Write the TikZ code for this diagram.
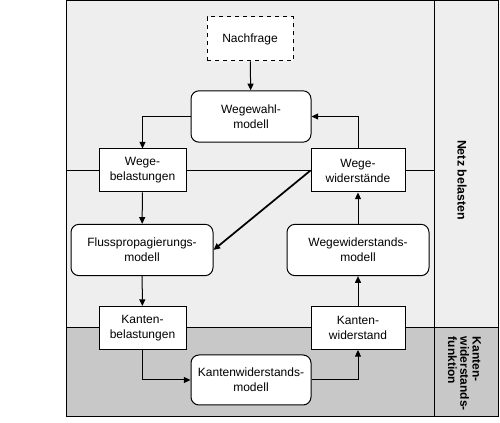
\documentclass[tikz,border=0pt]{standalone}
\usepackage{fontspec}
\setmainfont{Liberation Sans}
\usetikzlibrary{arrows.meta}
\definecolor{laneupper}{HTML}{EEEEEE}
\definecolor{lanelower}{HTML}{C8C8C8}
\begin{document}
\begin{tikzpicture}[x=0.75pt,y=-0.75pt,line width=0.75pt,
  font=\fontsize{9}{11.25}\selectfont]
\tikzset{datenbox/.style={draw,fill=white,inner sep=0pt,align=center,minimum height=32.25pt},
  modellbox/.style={datenbox,rounded corners=6pt,minimum height=38.5pt},
  pfeil/.style={-{Triangle[length=5pt,width=4.5pt]}}}
\useasboundingbox (0,0) rectangle (500,423);
\fill [laneupper] (66,1) rectangle (498,328);
\fill [lanelower] (66,328) rectangle (498,417);
\draw (66,1) rectangle (498,417);
\draw (434,1) -- (434,417);
\draw (66,171) -- (434,171);
\draw (66,328) -- (498,328);
\node [rotate=-90,font=\fontsize{9.3}{11}\selectfont\bfseries] (netz) at (462,180) {Netz belasten};
\node [rotate=-90,anchor=west,align=left,font=\fontsize{9}{9.2}\selectfont\bfseries] (kwf) at (464.5,332) {Kanten-\\widerstands-\\funktion};
\node [datenbox,dashed,minimum width=64.5pt,minimum height=33pt] (nachfrage) at (250,39) {Nachfrage};
\node [modellbox,minimum width=90pt] (wegewahl) at (251,116.5) {Wegewahl-\\modell};
\node [datenbox,minimum width=65.25pt] (wegebel) at (142.5,170.5) {Wege-\\belastungen};
\node [datenbox,minimum width=70.5pt] (wegewid) at (358,170.5) {Wege-\\widerstände};
\node [modellbox,minimum width=106.5pt] (fluss) at (142,250) {Flusspropagierungs-\\modell};
\node [modellbox,minimum width=106.5pt] (wwmodell) at (358,250) {Wegewiderstands-\\modell};
\node [datenbox,minimum width=65.25pt] (kantenbel) at (142.5,328) {Kanten-\\belastungen};
\node [datenbox,minimum width=70.5pt] (kantenwid) at (358,328) {Kanten-\\widerstand};
\node [modellbox,minimum width=90pt,minimum height=37.5pt] (kwmodell) at (251,380) {Kantenwiderstands-\\modell};
\draw [pfeil] (nachfrage) -- (wegewahl);
\draw [pfeil] (wegewahl.west) -| (wegebel.north);
\draw [pfeil] (wegewid.north) |- (wegewahl.east);
\draw [pfeil] (wegebel) -- (fluss);
\draw [pfeil,line width=1.3pt] (wegewid.west) -- (fluss.east);
\draw [pfeil] (fluss) -- (kantenbel);
\draw [pfeil] (kantenbel.south) |- (kwmodell.west);
\draw [pfeil] (kwmodell.east) -| (kantenwid.south);
\draw [pfeil] (kantenwid) -- (wwmodell);
\draw [pfeil] (wwmodell) -- (wegewid);
\end{tikzpicture}
\end{document}
